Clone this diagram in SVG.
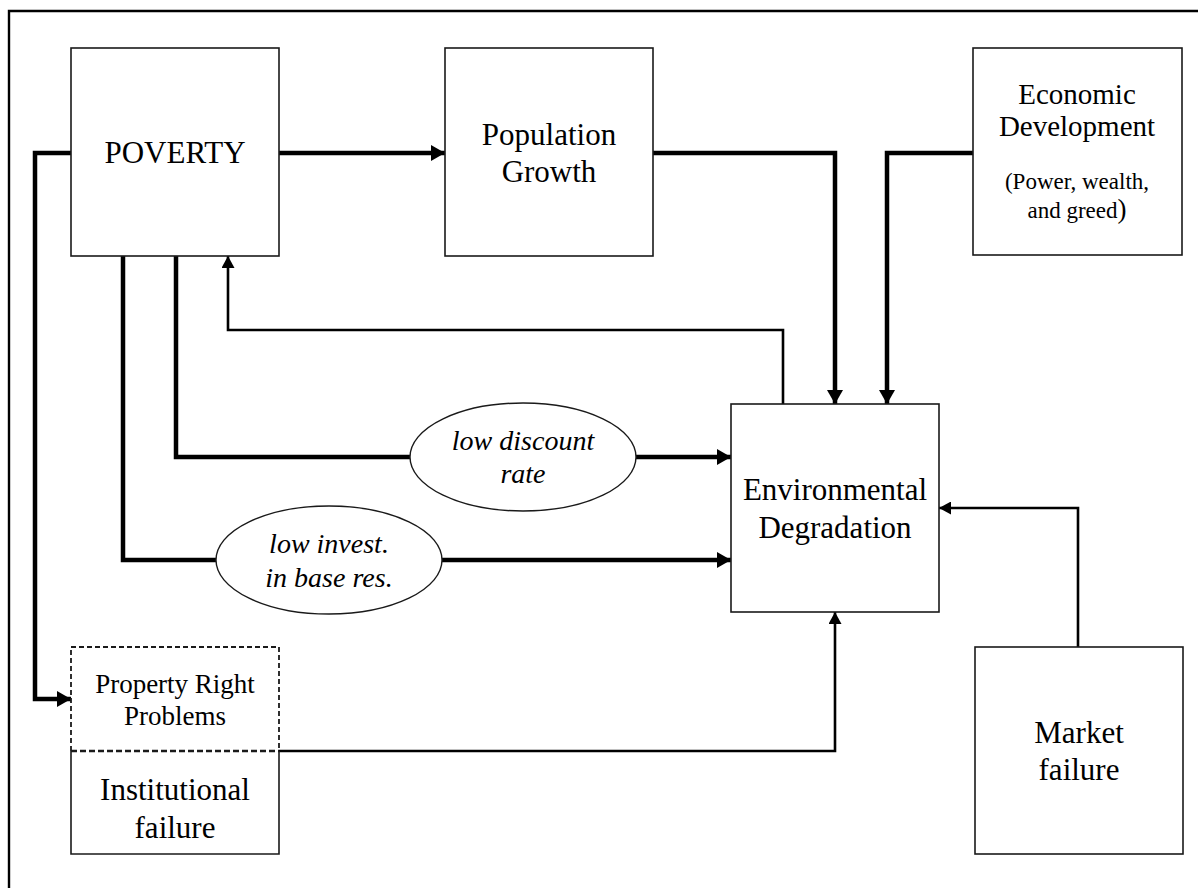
<svg xmlns="http://www.w3.org/2000/svg" width="1198" height="888" viewBox="0 0 1198 888">
  <style>
    .box { fill: #fff; stroke: #1a1a1a; stroke-width: 1.6; }
    .oval { fill: #fff; stroke: #1a1a1a; stroke-width: 1.4; }
    .dash { fill: none; stroke: #1a1a1a; stroke-width: 1.8; stroke-dasharray: 5 3; }
    .dash-thick { fill: none; stroke: #1a1a1a; stroke-width: 2.6; stroke-dasharray: 6 3; }
    .thick { fill: none; stroke: #000; stroke-width: 4.5; }
    .thin { fill: none; stroke: #000; stroke-width: 2.6; }
    .lbl { font-family: "Liberation Serif", "Times New Roman", serif; font-size: 31px; fill: #000; text-anchor: middle; }
    .tight { font-size: 29px; }
    .mid { font-size: 27px; }
    .small { font-size: 23px; }
    .ital { font-style: italic; font-size: 28px; }
  </style>
  <defs>
    <marker id="headBig" markerUnits="userSpaceOnUse" markerWidth="15" markerHeight="16" refX="14" refY="8" orient="auto">
      <path d="M0,0 L14,8 L0,16 Z" fill="#000"/>
    </marker>
    <marker id="headSmall" markerUnits="userSpaceOnUse" markerWidth="13" markerHeight="13" refX="12" refY="6.5" orient="auto">
      <path d="M0,0 L12,6.5 L0,13 Z" fill="#000"/>
    </marker>
  </defs>

  <!-- page frame (top and left edges) -->
  <path d="M9,888 V11 H1198" fill="none" stroke="#000" stroke-width="2.4"/>

  <!-- connectors -->
  <g id="connectors">
    <path class="thick" d="M279,153 H445" marker-end="url(#headBig)"/>
    <path class="thick" d="M71,153 H35 V699 H71" marker-end="url(#headBig)"/>
    <path class="thick" d="M123,256 V560 H216"/>
    <path class="thick" d="M442,560 H731" marker-end="url(#headBig)"/>
    <path class="thick" d="M176,256 V457 H410"/>
    <path class="thick" d="M636,457 H731" marker-end="url(#headBig)"/>
    <path class="thick" d="M653,153 H835 V404" marker-end="url(#headBig)"/>
    <path class="thick" d="M973,153 H887 V404" marker-end="url(#headBig)"/>
    <path class="thin" d="M783,404 V330 H228 V256" marker-end="url(#headSmall)"/>
    <path class="thin" d="M1078,647 V508 H939" marker-end="url(#headSmall)"/>
    <path class="thin" d="M279,751 H835 V612" marker-end="url(#headSmall)"/>
  </g>

  <g id="poverty">
    <rect class="box" x="71" y="48" width="208" height="208"/>
    <text class="lbl" x="175" y="163">POVERTY</text>
  </g>

  <g id="population-growth">
    <rect class="box" x="445" y="48" width="208" height="208"/>
    <text class="lbl" x="549" y="145">Population</text>
    <text class="lbl" x="549" y="182">Growth</text>
  </g>

  <g id="economic-development">
    <rect class="box" x="973" y="48" width="209" height="207"/>
    <text class="lbl tight" x="1077" y="104">Economic</text>
    <text class="lbl tight" x="1077" y="136">Development</text>
    <text class="lbl small" x="1077" y="189">(Power, wealth,</text>
    <text class="lbl small" x="1077" y="218">and greed<tspan font-size="27px">)</tspan></text>
  </g>

  <g id="environmental-degradation">
    <rect class="box" x="731" y="404" width="208" height="208"/>
    <text class="lbl" x="835" y="500">Environmental</text>
    <text class="lbl" x="835" y="538">Degradation</text>
  </g>

  <g id="market-failure">
    <rect class="box" x="975" y="647" width="208" height="207"/>
    <text class="lbl" x="1079" y="743">Market</text>
    <text class="lbl" x="1079" y="780">failure</text>
  </g>

  <g id="institutional-failure">
    <path class="box" d="M71,751 V854 H279 V751"/>
    <path class="dash" d="M71,751 V647 H279 V751"/>
    <path class="dash-thick" d="M71,751 H279"/>
    <text class="lbl mid" x="175" y="693">Property Right</text>
    <text class="lbl mid" x="175" y="725">Problems</text>
    <text class="lbl" x="175" y="800">Institutional</text>
    <text class="lbl" x="175" y="838">failure</text>
  </g>

  <g id="low-discount-rate">
    <ellipse class="oval" cx="523" cy="457" rx="113" ry="54"/>
    <text class="lbl ital" x="523" y="450">low discount</text>
    <text class="lbl ital" x="523" y="483">rate</text>
  </g>

  <g id="low-investment">
    <ellipse class="oval" cx="329" cy="560" rx="113" ry="54"/>
    <text class="lbl ital" x="329" y="553">low invest.</text>
    <text class="lbl ital" x="329" y="587">in base res.</text>
  </g>
</svg>
